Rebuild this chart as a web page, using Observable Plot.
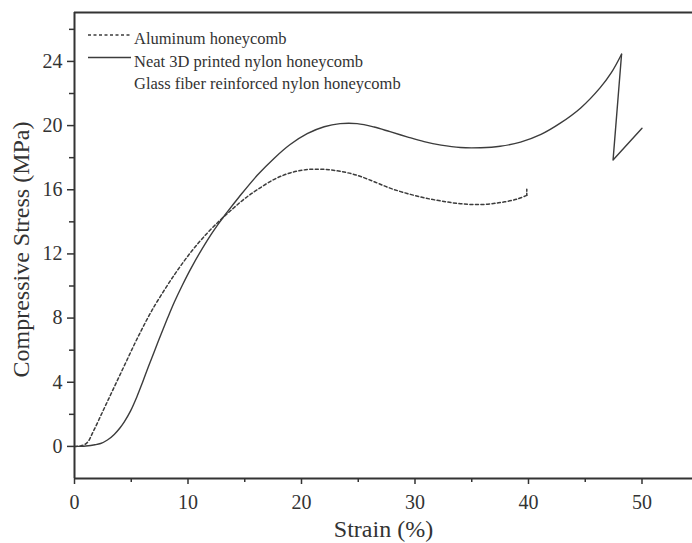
<!DOCTYPE html>
<html>
<head>
<meta charset="utf-8">
<script src="https://cdn.jsdelivr.net/npm/d3@7"></script>
<script src="https://cdn.jsdelivr.net/npm/@observablehq/plot@0.6"></script>
<style>
html, body { margin: 0; padding: 0; background: #ffffff; overflow: hidden; }
#chart { position: relative; width: 692px; height: 543px; }
</style>
</head>
<body>
<div id="chart"></div>
<script>
// ---- data ----
const seriesNames = [
  "Aluminum honeycomb",
  "Neat 3D printed nylon honeycomb",
  "Glass fiber reinforced nylon honeycomb"
];
const xLabel = "Strain (%)";
const yLabel = "Compressive Stress (MPa)";

const aluminumStrain = [0, 0.6, 1.1, 1.7, 2.5, 3.2, 3.9, 4.6, 5.3, 5.9, 6.6, 7.3, 8.8, 10.3, 11.7, 12.9, 14.0, 15.0, 16.1, 17.6, 19.0, 20.5, 22.0, 23.4, 24.9, 26.4, 27.8, 29.3, 30.8, 32.3, 34.0, 35.8, 37.5, 39.0, 39.85, 39.85];
const aluminumStress = [0, 0.05, 0.22, 1.0, 2.2, 3.25, 4.3, 5.35, 6.4, 7.25, 8.2, 9.05, 10.7, 12.15, 13.3, 14.15, 14.85, 15.45, 16.0, 16.65, 17.05, 17.26, 17.27, 17.15, 16.9, 16.5, 16.1, 15.77, 15.5, 15.3, 15.13, 15.08, 15.2, 15.42, 15.65, 16.05];

const nylonStrain = [0, 1.0, 1.8, 2.3, 2.9, 3.5, 4.0, 4.4, 4.93, 5.5, 6.0, 6.5, 7.0, 7.6, 8.2, 8.8, 9.5, 10.3, 11.7, 12.6, 13.5, 14.5, 16.1, 17.6, 19.0, 20.5, 22.0, 23.4, 24.9, 26.4, 27.8, 29.3, 30.8, 32.3, 34.0, 35.8, 37.5, 39.3, 41.1, 42.8, 44.6, 46.3, 47.3, 48.2, 47.45, 50.0];
const nylonStress = [0, 0.03, 0.1, 0.18, 0.4, 0.75, 1.15, 1.55, 2.2, 3.1, 4.0, 4.95, 5.85, 6.95, 8.0, 9.0, 10.05, 11.15, 12.85, 13.8, 14.65, 15.55, 16.9, 17.97, 18.82, 19.5, 19.93, 20.12, 20.12, 19.91, 19.62, 19.3, 19.0, 18.78, 18.63, 18.62, 18.71, 18.97, 19.45, 20.15, 21.1, 22.35, 23.3, 24.45, 17.85, 19.83];

const xMajorTicks = [0, 10, 20, 30, 40, 50];
const xMinorTicks = [5, 15, 25, 35, 45];
const yMajorTicks = [0, 4, 8, 12, 16, 20, 24];
const yMinorTicks = [2, 6, 10, 14, 18, 22, 26];
const xDomain = [0, 54.45];
const yDomain = [-2, 27.05];

// ---- tables ----
const aluminum = aluminumStrain.map((s, i) => ({strain: s, stress: aluminumStress[i]}));
const nylon = nylonStrain.map((s, i) => ({strain: s, stress: nylonStress[i]}));
// smooth part up to the turning point; the short tail after it is drawn straight
const alSmooth = aluminum.slice(0, aluminum.length - 1);
const alTail = aluminum.slice(aluminum.length - 2);
const nyPeak = nylonStress.indexOf(Math.max(...nylonStress));
const nySmooth = nylon.slice(0, nyPeak + 1);
const nyTail = nylon.slice(nyPeak);

const font = '"Liberation Serif", "Times New Roman", Times, serif';
const ink = "#333333";
const curveInk = "#3c3c3c";
const noLabel = () => "";

const plot = Plot.plot({
  width: 692,
  height: 543,
  marginLeft: 74,
  marginRight: 0,
  marginTop: 12,
  marginBottom: 65,
  style: {fontFamily: font, background: "transparent", color: ink},
  x: {domain: xDomain},
  y: {domain: yDomain},
  marks: [
    Plot.line(alSmooth, {x: "strain", y: "stress", curve: "catmull-rom", stroke: curveInk, strokeWidth: 1.5, strokeDasharray: "3,2.5"}),
    Plot.line(alTail, {x: "strain", y: "stress", stroke: curveInk, strokeWidth: 1.5, strokeDasharray: "2,2"}),
    Plot.line(nySmooth, {x: "strain", y: "stress", curve: "catmull-rom", stroke: curveInk, strokeWidth: 1.4}),
    Plot.line(nyTail, {x: "strain", y: "stress", stroke: curveInk, strokeWidth: 1.4}),
    Plot.ruleY([yDomain[0]], {stroke: ink, strokeWidth: 2}),
    Plot.ruleY([yDomain[1]], {stroke: ink, strokeWidth: 2}),
    Plot.ruleX([xDomain[0]], {stroke: ink, strokeWidth: 2}),
    Plot.axisX(xMajorTicks, {tickSize: 6, tickPadding: 10, fontSize: 20, strokeWidth: 1.5, stroke: ink, fill: ink, label: null}),
    Plot.axisX(xMinorTicks, {tickSize: 4, strokeWidth: 1.5, stroke: ink, tickFormat: noLabel, label: null}),
    Plot.axisY(yMajorTicks, {tickSize: 7, tickPadding: 5, fontSize: 20, strokeWidth: 1.5, stroke: ink, fill: ink, label: null}),
    Plot.axisY(yMinorTicks, {tickSize: 5, strokeWidth: 1.5, stroke: ink, tickFormat: noLabel, label: null}),
    Plot.text([xLabel], {frameAnchor: "bottom", dy: 51, lineAnchor: "middle", textAnchor: "middle", text: d => d, fontSize: 24, fill: ink}),
    Plot.text([yLabel], {frameAnchor: "left", dx: -53, dy: 4, rotate: -90, lineAnchor: "middle", textAnchor: "middle", text: d => d, fontSize: 24, fill: ink})
  ]
});

document.getElementById("chart").appendChild(plot);

// ---- legend inside the frame (top-left) ----
const svg = d3.select(plot);
const legend = svg.append("g")
  .attr("font-family", font).attr("font-size", 16.5)
  .attr("fill", ink).attr("text-anchor", "start");
const legendStyles = [
  {dash: "3,2.5", show: true},
  {dash: null, show: true},
  {dash: null, show: false}
];
const legendX0 = 88, legendX1 = 131, legendTextX = 134, legendTop = 38.5, legendStep = 22.5;
seriesNames.forEach((name, i) => {
  const cy = legendTop + i * legendStep;
  if (legendStyles[i].show) {
    legend.append("line")
      .attr("x1", legendX0).attr("x2", legendX1)
      .attr("y1", cy - 3.5).attr("y2", cy - 3.5)
      .attr("stroke", curveInk).attr("stroke-width", 1.4)
      .attr("stroke-dasharray", legendStyles[i].dash);
  }
  legend.append("text")
    .attr("x", legendTextX).attr("y", cy + 5.5)
    .attr("text-anchor", "start")
    .text(name);
});
</script>
</body>
</html>
